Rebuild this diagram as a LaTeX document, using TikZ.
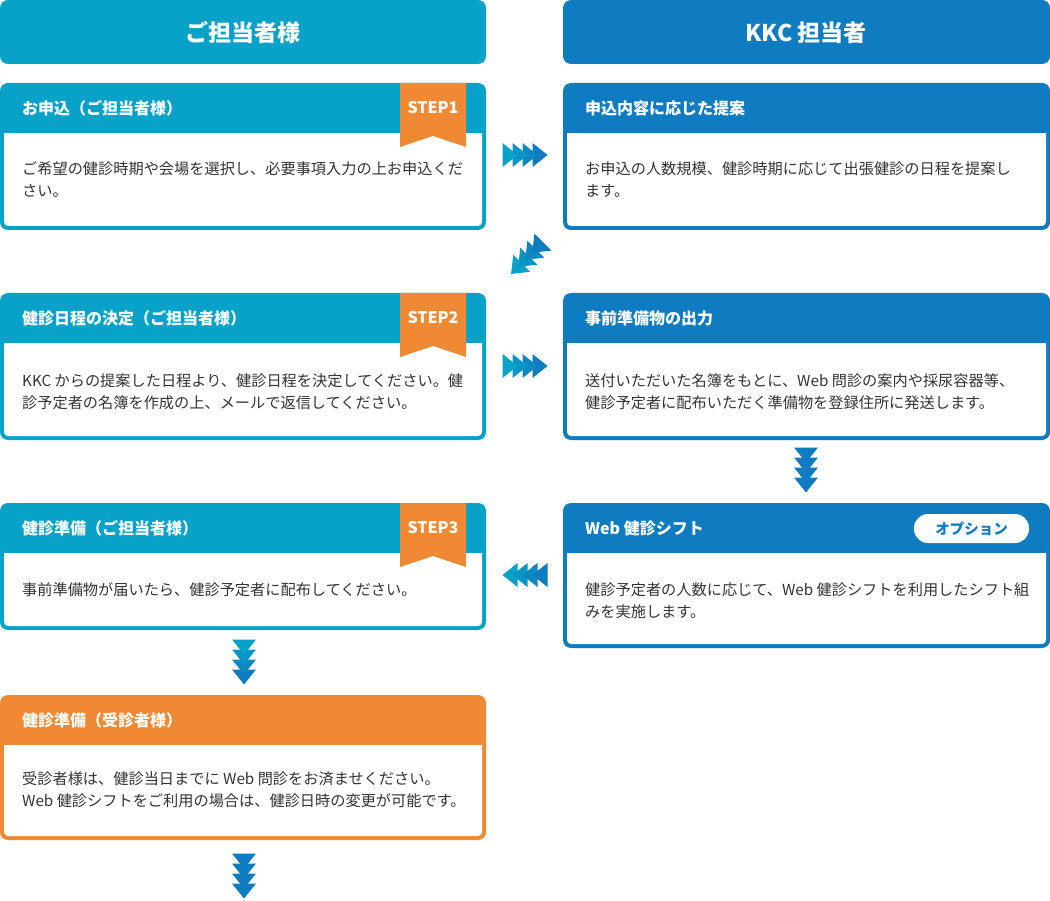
\documentclass[tikz,border=0pt]{standalone}
\usepackage{fontspec}
\setmainfont{Noto Sans CJK JP}
\definecolor{teal1}{HTML}{08A2C9}
\definecolor{blue1}{HTML}{0F7BC0}
\definecolor{orange1}{HTML}{EF8934}
\definecolor{txt}{HTML}{333333}
\newcommand\panel[6]{%
 \fill[#5,rounded corners=8pt] (#1,#2) rectangle (#3,#4);
 \fill[white,rounded corners=4pt] ({#1+4},{#6-6}) rectangle ({#3-4},{#4-4});
 \fill[#5] ({#1+4},{#6-7}) rectangle ({#3-4},{#6});
}
\newcommand\chevrons[6]{%
 \begin{scope}[shift={(#1,#2)},rotate=#3,scale=#6]
  \foreach \i/\p in {3/100,2/67,1/33,0/0} {
    \fill[#5!\p!#4] ({-22.5+10*\i},-12) -- ({-7.5+10*\i},0) -- ({-22.5+10*\i},12) -- cycle;
  }
 \end{scope}}
\newcommand\stepbadge[3]{%
 \fill[orange1] (#1,#2) -- ({#1+66},#2) -- ({#1+66},{#2+64}) -- ({#1+33},{#2+53}) -- (#1,{#2+64}) -- cycle;
 \node[titletext,anchor=center] (#3) at ({#1+33},{#2+25}) {#3};
}
\begin{document}
\begin{tikzpicture}[x=1pt,y=-1pt,
  toptext/.style={text=white,font=\fontsize{23}{27}\selectfont\bfseries,inner sep=0pt},
  titletext/.style={text=white,font=\fontsize{16}{20}\selectfont\bfseries,inner sep=0pt,anchor=west},
  bodytext/.style={text=txt,font=\fontsize{15.2}{22}\selectfont,inner sep=0pt,anchor=west,align=left}]
\useasboundingbox (0,0) rectangle (1050,901);
% column headers
\fill[teal1,rounded corners=8pt] (0,0) rectangle (486,64);
\fill[blue1,rounded corners=8pt] (563,0) rectangle (1050,64);
\node[toptext] (h1) at (243,33) {ご担当者様};
\node[toptext] (h2) at (806,33) {KKC 担当者};
% row 1
\panel{0}{83}{486}{230}{teal1}{133}
\panel{563}{83}{1050}{230}{blue1}{133}
\stepbadge{400}{83}{STEP1}
\node[titletext] (t1) at (22,108) {お申込（ご担当者様）};
\node[bodytext] (b1) at (22,180) {ご希望の健診時期や会場を選択し、必要事項入力の上お申込くだ\\さい。};
\node[titletext] (t2) at (585,108) {申込内容に応じた提案};
\node[bodytext] (b2) at (585,180) {お申込の人数規模、健診時期に応じて出張健診の日程を提案し\\ます。};
% row 2
\panel{0}{293}{486}{440}{teal1}{343}
\panel{563}{293}{1050}{440}{blue1}{343}
\stepbadge{400}{293}{STEP2}
\node[titletext] (t3) at (22,318) {健診日程の決定（ご担当者様）};
\node[bodytext] (b3) at (22,392) {KKC からの提案した日程より、健診日程を決定してください。健\\診予定者の名簿を作成の上、メールで返信してください。};
\node[titletext] (t4) at (585,318) {事前準備物の出力};
\node[bodytext] (b4) at (585,392) {送付いただいた名簿をもとに、Web 問診の案内や採尿容器等、\\健診予定者に配布いただく準備物を登録住所に発送します。};
% row 3
\panel{0}{503}{486}{630}{teal1}{553}
\panel{563}{503}{1050}{648}{blue1}{553}
\stepbadge{400}{503}{STEP3}
\node[titletext] (t5) at (22,528) {健診準備（ご担当者様）};
\node[bodytext] (b5) at (22,590) {事前準備物が届いたら、健診予定者に配布してください。};
\node[titletext] (t6) at (585,528) {Web 健診シフト};
\fill[white,rounded corners=14pt] (914,514) rectangle (1029,543);
\node[text=blue1,font=\fontsize{14.5}{18}\selectfont\bfseries,inner sep=0pt] (op) at (971.5,528.5) {オプション};
\node[bodytext] (b6) at (585,601) {健診予定者の人数に応じて、Web 健診シフトを利用したシフト組\\みを実施します。};
% row 4
\panel{0}{695}{486}{840}{orange1}{745}
\node[titletext] (t7) at (22,720) {健診準備（受診者様）};
\node[bodytext] (b7) at (22,790) {受診者様は、健診当日までに Web 問診をお済ませください。\\Web 健診シフトをご利用の場合は、健診日時の変更が可能です。};
% arrows
\chevrons{525}{155}{0}{teal1}{blue1}{1}
\chevrons{527}{258}{-135}{blue1}{teal1}{1}
\chevrons{525}{366}{0}{teal1}{blue1}{1}
\chevrons{806}{470}{-90}{blue1}{blue1}{1}
\chevrons{525}{575}{180}{blue1}{teal1}{1}
\chevrons{244}{662}{-90}{teal1}{blue1}{1}
\chevrons{244}{876}{-90}{blue1}{blue1}{1}
\end{tikzpicture}
\end{document}
